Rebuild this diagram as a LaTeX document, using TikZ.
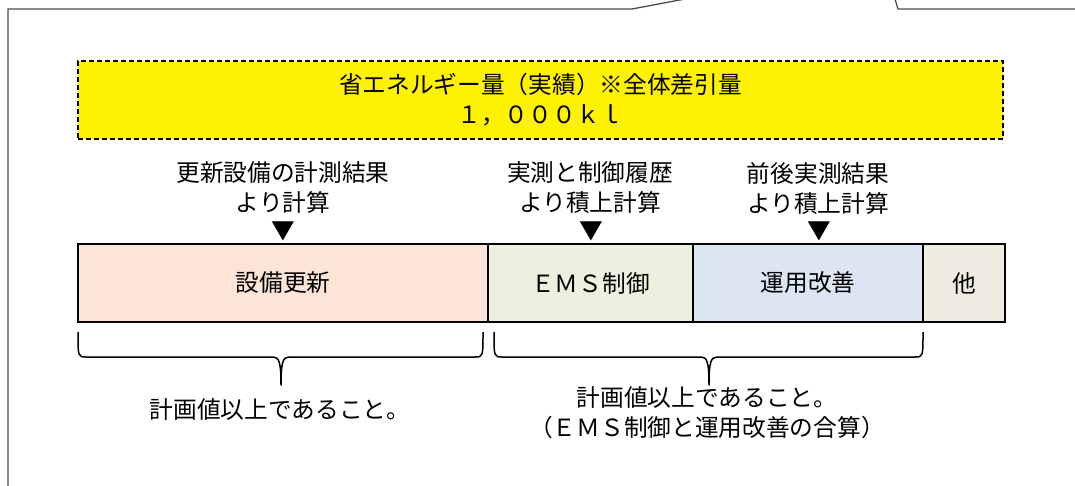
\documentclass[tikz,border=0pt]{standalone}
\usepackage{fontspec}
\newfontfamily\jpfont{Noto Sans CJK JP}
\usepackage{tikz}
\usetikzlibrary{positioning}
\definecolor{renewfill}{HTML}{FCE4D6}
\definecolor{emsfill}{HTML}{EBF1DE}
\definecolor{opfill}{HTML}{DCE6F2}
\definecolor{otherfill}{HTML}{EEECE1}

\begin{document}
\begin{tikzpicture}[
	x=1pt, y=-1pt,
	every node/.style={font=\jpfont\fontsize{23.7}{30}\selectfont, inner sep=0pt, outer sep=0pt, align=center},
	segment/.style={draw, line width=2pt, minimum height=78pt},
	frameline/.style={draw=black!70, line width=1.3pt},
	braceline/.style={draw, line width=1.5pt, line join=round},
	]
	\useasboundingbox (0,0) rectangle (1075,486);
	
	% Frame lines at the top and left
	\draw[frameline] (8,487) -- (8,9) -- (632,9) -- (685,-1);
	\draw[frameline] (895,-1) -- (898,9) -- (1076,9);
	
	% Total saving box
	\node[draw, fill=yellow, line width=1.5pt, dash pattern=on 5pt off 3pt,
		minimum width=925pt, minimum height=78pt] (total) at (540.5,100) {
		省エネルギー量（実績）※全体差引量\\１，０００ｋｌ
	};
	
	% Bar of the four parts
	\node[segment, fill=renewfill, minimum width=410pt] (renew) at (283,283) {設備更新};
	\node[segment, fill=emsfill, minimum width=205pt, right=0pt of renew] (ems) {ＥＭＳ制御};
	\node[segment, fill=opfill, minimum width=230pt, right=0pt of ems] (oper) {運用改善};
	\node[segment, fill=otherfill, minimum width=82pt, right=0pt of oper] (other) {他};
	
	% How each part is calculated
	\node (howrenew) at (283,188) {更新設備の計測結果\\より計算};
	\node (howems) at (590,188) {実測と制御履歴\\より積上計算};
	\node (howoper) at (818,188) {前後実測結果\\より積上計算};
	\node (trirenew) at (283,231) {▼};
	\node (triems) at (591,231) {▼};
	\node (trioper) at (819,231) {▼};
	
	% Braces under the bar
	\draw[braceline] (78,332) .. controls (78,357) .. (86,357) -- (273,357)
		.. controls (279,357) and (281,362) .. (281,385)
		.. controls (281,362) and (283,357) .. (289,357) -- (475,357)
		.. controls (483,357) .. (483,332);
	\draw[braceline] (494,332) .. controls (494,357) .. (502,357) -- (701,357)
		.. controls (707,357) and (709,362) .. (709,385)
		.. controls (709,362) and (711,357) .. (717,357) -- (915,357)
		.. controls (923,357) .. (923,332);
	
	% Requirements
	\node (reqrenew) at (280,410) {計画値以上であること。};
	\node (reqrest) at (707,412.5) {計画値以上であること。\\（ＥＭＳ制御と運用改善の合算）};
	
\end{tikzpicture}
\end{document}
